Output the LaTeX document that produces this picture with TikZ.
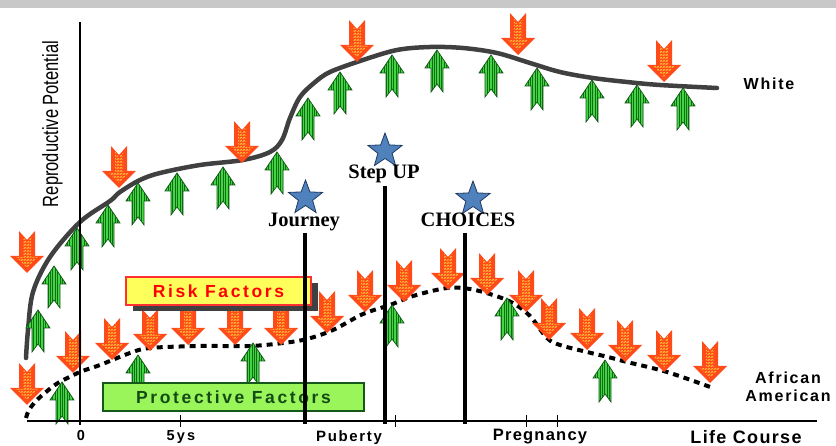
\documentclass[tikz,border=0pt]{standalone}
\usepackage{fontspec}
\setmainfont{Liberation Serif}
\setsansfont{Liberation Sans}
\usepackage{xcolor}
\definecolor{riskred}{HTML}{FF4A1A}
\definecolor{riskyellow}{HTML}{FFC83A}
\definecolor{safegreen}{HTML}{45D445}
\definecolor{safedark}{HTML}{0E6E12}
\definecolor{safeedge}{HTML}{15591A}
\definecolor{starblue}{HTML}{4F81BD}
\definecolor{starline}{HTML}{1F3A60}
\definecolor{curvegray}{HTML}{404040}
\definecolor{bargray}{HTML}{C8C8C8}
\definecolor{riskfill}{HTML}{FFFF5C}
\definecolor{riskline}{HTML}{FF3030}
\definecolor{safefill}{HTML}{99F55A}
\definecolor{safetext}{HTML}{144A14}
\def\riskcolor{riskred}
\def\safecolor{safegreen}
\usepackage{tikz}
\usetikzlibrary{shapes.geometric,shadows,patterns,patterns.meta,positioning}
\pgfdeclarepatternformonly{zigwave}{\pgfqpoint{0pt}{0pt}}{\pgfqpoint{3pt}{2.6pt}}{\pgfqpoint{3pt}{2.6pt}}{%
	\pgfsetlinewidth{0.9pt}%
	\pgfpathmoveto{\pgfqpoint{0pt}{0.5pt}}%
	\pgfpathlineto{\pgfqpoint{1.5pt}{1.9pt}}%
	\pgfpathlineto{\pgfqpoint{3pt}{0.5pt}}%
	\pgfusepath{stroke}%
}
\newcommand\spacedsans[2]{\sffamily\bfseries\fontsize{#1}{#1}\selectfont\addfontfeature{LetterSpace=#2}}

\begin{document}
\begin{tikzpicture}[x=1pt,y=-1pt]
	\tikzset{
		riskdown/.pic={
			\path[fill=\riskcolor] (0,0)--(-17,-17)--(-8,-17)--(-8,-42)--(0,-33)--(8,-42)--(8,-17)--(17,-17)--cycle;
			\path[pattern=zigwave,pattern color=riskyellow] (0,-5)--(-11,-16)--(-4,-16)--(-4,-37)--(0,-30)--(4,-37)--(4,-16)--(11,-16)--cycle;
		},
		safeup/.pic={
			\path[preaction={fill=\safecolor},pattern={Lines[angle=90,distance=2.4pt,line width=0.8pt]},pattern color=safedark,draw=safeedge,line width=0.7pt] (0,0)--(12,18)--(6,18)--(6,42)--(0,34)--(-6,42)--(-6,18)--(-12,18)--cycle;
		},
		milestone/.style={star,star points=5,star point ratio=2.4,fill=starblue,draw=starline,line width=0.8pt,minimum size=36pt,inner sep=0pt},
		milestonefont/.style={font=\bfseries\fontsize{20.5}{24}\selectfont,anchor=base},
		axisline/.style={line width=2pt},
		markline/.style={line width=3.5pt},
		whitecurve/.style={curvegray,line width=4.5pt,line cap=round},
		aacurve/.style={black,line width=4pt,dash pattern=on 6pt off 5pt},
		riskbox/.style={draw=riskline,line width=1.5pt,fill=riskfill,minimum width=185pt,minimum height=28pt,inner sep=0pt,text=red,font={\spacedsans{17.5}{15}},drop shadow={shadow xshift=7pt,shadow yshift=-6pt,fill=curvegray,opacity=1}},
		safebox/.style={draw=safeedge,line width=1.5pt,fill=safefill,minimum width=261pt,minimum height=28pt,inner sep=0pt,text=safetext,font={\spacedsans{17.5}{15}}},
		curvelabel/.style={font={\spacedsans{16}{11}},align=center}
	}
	\useasboundingbox (0,0) rectangle (836,446);
	%%%top strip
	\fill[bargray] (0,0) rectangle (836,8.5);
	%%%White curve
	\draw[whitecurve] plot[smooth,tension=0.55] coordinates {(26,358) (28,330) (33,292) (50,257) (80,222) (110,201) (120,192) (140,180) (160,173) (200,165) (243,160) (270,152) (282,140) (290,118) (300,97) (314,83) (330,72) (363,60) (397,50) (430,47) (463,48) (497,53) (530,63) (560,72) (593,78) (627,82) (660,85) (717,88)};
	%%%African American curve
	\draw[aacurve] plot[smooth,tension=0.55] coordinates {(26,418) (29,410) (36,401) (46,392) (58,383) (80,372) (100,365) (130,353) (150,348) (200,346) (250,346) (283,343) (307,339) (333,330) (363,314) (390,305) (413,296) (447,288) (470,289) (493,295) (513,303) (530,316) (547,338) (560,345) (587,352) (608,357) (627,362) (667,372) (713,388)};
	%%%green arrows
	\foreach \x/\y in {38/310,54/266,77/228,108/205,138/183,177/173,223/167,277/152,308/98,340/72,392/55,437/50,491/55,537/68,592/80,637/85,683/88,62/382,138/355,253/343,392/305,507/298,605/360}{%
		\path (\x,\y) pic {safeup};
	}
	%%%red arrows
	\foreach \x/\y in {27/273,119/188,242/163,357/62,518/55,664/82,27/405,73/373,112/360,150/351,188/345,235/345,281/345,327/333,365/312,404/302,448/290,487/295,526/312,549/340,587/350,625/362,664/372,710/383}{%
		\path (\x,\y) pic {riskdown};
	}
	%%%factor boxes
	\node[riskbox] (risk) at (218.5,291) {Risk Factors};
	\node[safebox] (safe) at (233.5,397) {Protective Factors};
	%%%axes
	\coordinate (ytop) at (80,22);
	\coordinate (ybot) at (80,425);
	\coordinate (xleft) at (27,421);
	\coordinate (xright) at (817,421);
	\draw[axisline] (ytop) -- (ybot);
	\draw[axisline] (xleft) -- (xright);
	\foreach \x in {180,395,526,557}{%
		\draw[line width=1pt] (\x,415) -- (\x,427);
	}
	%%%milestones
	\foreach \nm/\x/\top in {journey/305/233,stepup/385/186,choices/465/233}{%
		\coordinate (\nm top) at (\x,\top);
		\coordinate (\nm foot) at (\x,424);
		\draw[markline] (\nm top) -- (\nm foot);
	}
	\node[milestone] (journeystar) at (305.5,198) {};
	\node[milestone] (stepupstar) at (385,151) {};
	\node[milestone] (choicesstar) at (473,199) {};
	\node[milestonefont] (journeylbl) at (304,227) {Journey};
	\node[milestonefont] (stepuplbl) at (384,179) {Step UP};
	\node[milestonefont] (choiceslbl) at (468,227) {CHOICES};
	%%%labels
	\node[rotate=90,font=\sffamily\fontsize{22}{22}\selectfont] (potential) at (52.5,124) {\scalebox{0.75}[1]{Reproductive Potential}};
	\node[curvelabel] (whitelbl) at (769,84) {White};
	\node[curvelabel,font={\spacedsans{16}{11}\baselineskip=18pt}] (aalbl) at (788,387) {African\\American};
	\node[anchor=base,font={\spacedsans{14.5}{15}}] (zerolbl) at (81,440) {0};
	\node[anchor=base,font={\spacedsans{14.5}{15}}] (fivelbl) at (181,440) {5ys};
	\node[anchor=base,font={\spacedsans{15}{11}}] (pubertylbl) at (349,441.5) {Puberty};
	\node[anchor=base,font={\spacedsans{16.5}{7.5}}] (pregnancylbl) at (540,441) {Pregnancy};
	\node[anchor=base,font={\spacedsans{18}{7.5}}] (lifelbl) at (746,443) {Life Course};
\end{tikzpicture}
\end{document}
